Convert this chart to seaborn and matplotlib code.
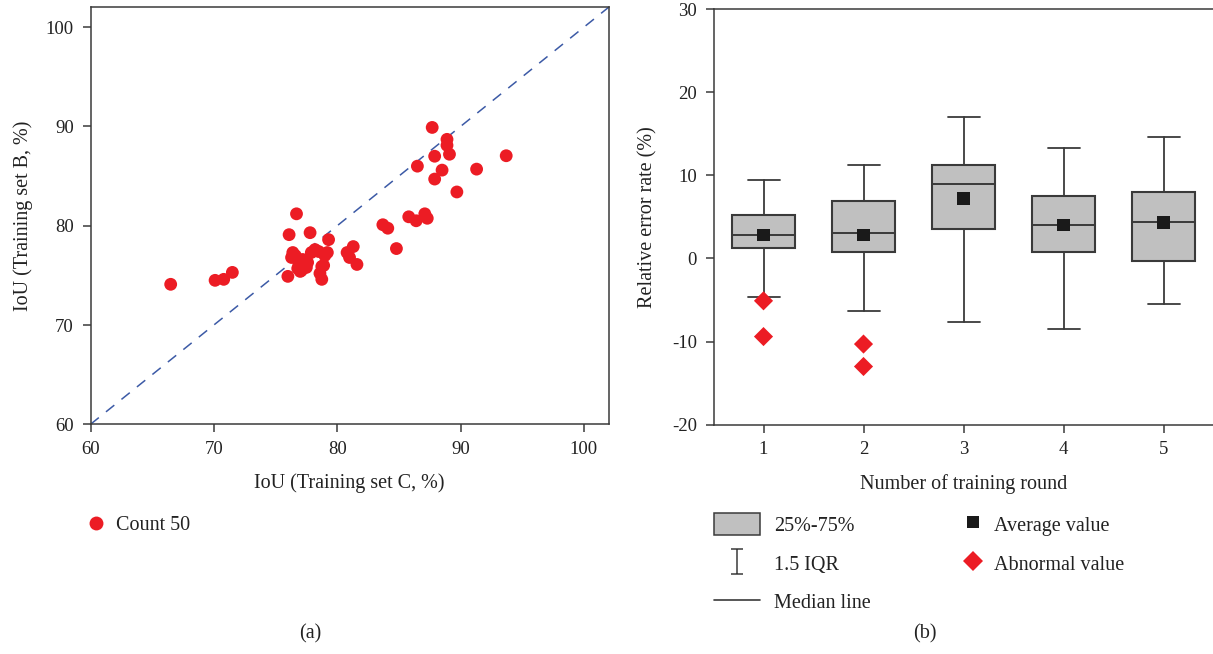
import numpy as np
import pandas as pd
import matplotlib
matplotlib.use("Agg")
import matplotlib.pyplot as plt
import seaborn as sns
from matplotlib.lines import Line2D
from matplotlib.patches import Patch
from matplotlib.path import Path

# ---------------- data: panel (a) ----------------
iou_c = [66.5, 70.1, 70.8, 71.5,
         76.7,
         76.1, 77.8, 79.3, 79.2, 77.9, 78.5, 76.4, 76.3, 76.9, 77.5,
         76.0, 77.0, 78.75, 78.75, 78.6, 80.8, 81.3, 81.6, 81.0,
         76.6, 77.2, 77.6, 78.2, 76.8, 79.0, 78.9, 77.1,
         83.7, 84.1, 84.8,
         87.7, 88.9, 88.9, 89.1, 87.9, 86.5, 88.5, 87.9, 91.3, 93.7,
         89.7, 85.8, 86.4, 87.1, 87.3]
iou_b = [74.1, 74.5, 74.6, 75.3,
         81.2,
         79.1, 79.3, 78.6, 77.3, 77.3, 77.4, 77.3, 76.8, 76.1, 75.8,
         74.9, 75.4, 75.9, 74.6, 75.2, 77.3, 77.9, 76.1, 76.8,
         77.0, 76.6, 76.3, 77.6, 75.7, 77.0, 76.0, 75.5,
         80.1, 79.75, 77.7,
         89.9, 88.7, 88.1, 87.2, 87.0, 86.0, 85.6, 84.7, 85.7, 87.05,
         83.4, 80.9, 80.5, 81.2, 80.75]

# ---------------- data: panel (b) ----------------
rounds = [1, 2, 3, 4, 5]
q1 = [1.25, 0.75, 3.5, 0.75, -0.3]
q3 = [5.2, 6.9, 11.25, 7.5, 8.0]
median = [2.8, 3.0, 8.9, 4.05, 4.4]
mean = [2.8, 2.85, 7.2, 4.0, 4.3]
whisker_low = [-4.6, -6.3, -7.7, -8.5, -5.5]
whisker_high = [9.4, 11.2, 17.0, 13.3, 14.6]
outlier_round = [1, 1, 2, 2]
outlier_value = [-5.1, -9.4, -10.3, -13.0]

# ---------------- style ----------------
sns.set_theme(style="ticks")
plt.rcParams['font.family'] = ['Liberation Serif', 'DejaVu Serif']
plt.rcParams['axes.unicode_minus'] = False
FS = 14.5
FT = 13.5
DARK = '#3a3a3a'
TXT = '#222222'
RED = '#ec1c24'

fig = plt.figure(figsize=(12.13, 6.54), dpi=100)
W, H = 1213, 654

def axes_px(l, t, r, b):
    return fig.add_axes([l / W, 1 - b / H, (r - l) / W, (b - t) / H])

# ---------------- panel (a) ----------------
ax1 = axes_px(90.5, 7.3, 608.6, 424.3)
df_a = pd.DataFrame({'C': iou_c, 'B': iou_b})
ax1.plot([60, 102], [60, 102], ls=(0, (7, 6)), color='#3c5aa6', lw=1.1, zorder=1)
sns.scatterplot(data=df_a, x='C', y='B', ax=ax1, color=RED, s=85,
                edgecolor='none', linewidth=0, zorder=3, legend=False)
ax1.set_xlim(60, 102)
ax1.set_ylim(60, 102)
ax1.set_xticks([60, 70, 80, 90, 100])
ax1.set_yticks([60, 70, 80, 90, 100])
ax1.set_xlabel('IoU (Training set C, %)', fontsize=FS, color=TXT, labelpad=11)
ax1.set_ylabel('IoU (Training set B, %)', fontsize=FS, color=TXT, labelpad=9)

# ---------------- panel (b) ----------------
ax2 = axes_px(713.5, 9, 1213.5, 424.7)
stats = []
for i in range(len(rounds)):
    stats.append(dict(med=median[i], q1=q1[i], q3=q3[i], whislo=whisker_low[i],
                      whishi=whisker_high[i], mean=mean[i], fliers=[]))
ax2.bxp(stats, positions=rounds, widths=0.63, capwidths=0.32, patch_artist=True,
        showfliers=False, showmeans=False,
        boxprops=dict(facecolor='#c0c0c0', edgecolor=DARK, linewidth=1.5),
        medianprops=dict(color=DARK, linewidth=1.4),
        whiskerprops=dict(color=DARK, linewidth=1.3),
        capprops=dict(color=DARK, linewidth=1.3))
df_mean = pd.DataFrame({'round': rounds, 'mean': mean})
sns.scatterplot(data=df_mean, x='round', y='mean', ax=ax2, marker='s', color='#1a1a1a',
                s=80, edgecolor='none', linewidth=0, zorder=5, legend=False)
df_out = pd.DataFrame({'round': outlier_round, 'value': outlier_value})
sns.scatterplot(data=df_out, x='round', y='value', ax=ax2, marker='D', color=RED,
                s=95, edgecolor='none', linewidth=0, zorder=5, legend=False)
ax2.set_xlim(0.5, 5.5)
ax2.set_ylim(-20, 30)
ax2.set_xticks(rounds)
ax2.set_xticklabels([str(r) for r in rounds])
ax2.set_yticks([-20, -10, 0, 10, 20, 30])
ax2.set_yticklabels(['-20', '-10', '0', '10', '20', '30'])
ax2.set_xlabel('Number of training round', fontsize=FS, color=TXT, labelpad=11)
ax2.set_ylabel('Relative error rate (%)', fontsize=FS, color=TXT, labelpad=10)
ax2.spines['right'].set_visible(False)

for ax in (ax1, ax2):
    for sp in ax.spines.values():
        sp.set_color(DARK)
        sp.set_linewidth(1.1)
    ax.tick_params(direction='out', length=6, width=1.1, color=DARK,
                   labelsize=FT, labelcolor=TXT, pad=6)
    ax.grid(False)

# ---------------- legends ----------------
fig.legend(handles=[Line2D([], [], marker='o', ls='', color=RED, markersize=10,
                           markeredgewidth=0)],
           labels=['Count 50'], loc='center left', bbox_to_anchor=(86 / W, 1 - 525 / H),
           frameon=False, fontsize=FS, handlelength=0.95, handletextpad=0.55,
           borderpad=0, borderaxespad=0, labelcolor=TXT)

ibeam = Path([(-0.5, 1), (0.5, 1), (0, 1), (0, -1), (-0.5, -1), (0.5, -1)],
             [Path.MOVETO, Path.LINETO, Path.MOVETO, Path.LINETO, Path.MOVETO, Path.LINETO])
h_box = Patch(facecolor='#c0c0c0', edgecolor=DARK, linewidth=1.1)
h_iqr = Line2D([], [], marker=ibeam, ls='', markersize=18, markerfacecolor='none',
               markeredgecolor=DARK, markeredgewidth=1.1)
h_med = Line2D([], [], color=DARK, lw=1.2)
fig.legend(handles=[h_box, h_iqr, h_med], labels=['25%-75%', '1.5 IQR', 'Median line'],
           loc='upper left', bbox_to_anchor=(714 / W, 1 - 513 / H), frameon=False,
           fontsize=FS, handlelength=2.3, handleheight=1.3, handletextpad=0.7,
           labelspacing=0.8, borderpad=0, borderaxespad=0, labelcolor=TXT)

h_mean = Line2D([], [], marker='s', ls='', color='#1a1a1a', markersize=9, markeredgewidth=0)
h_out = Line2D([], [], marker='D', ls='', color=RED, markersize=10, markeredgewidth=0)
fig.legend(handles=[h_mean, h_out], labels=['Average value', 'Abnormal value'],
           loc='upper left', bbox_to_anchor=(962 / W, 1 - 513 / H), frameon=False,
           fontsize=FS, handlelength=1.1, handleheight=1.3, handletextpad=0.5,
           labelspacing=0.8, borderpad=0, borderaxespad=0, labelcolor=TXT)

fig.text(310 / W, 1 - 634 / H, '(a)', ha='center', va='center', fontsize=FS, color=TXT)
fig.text(925 / W, 1 - 634 / H, '(b)', ha='center', va='center', fontsize=FS, color=TXT)

fig.savefig('out.png', dpi=100)
